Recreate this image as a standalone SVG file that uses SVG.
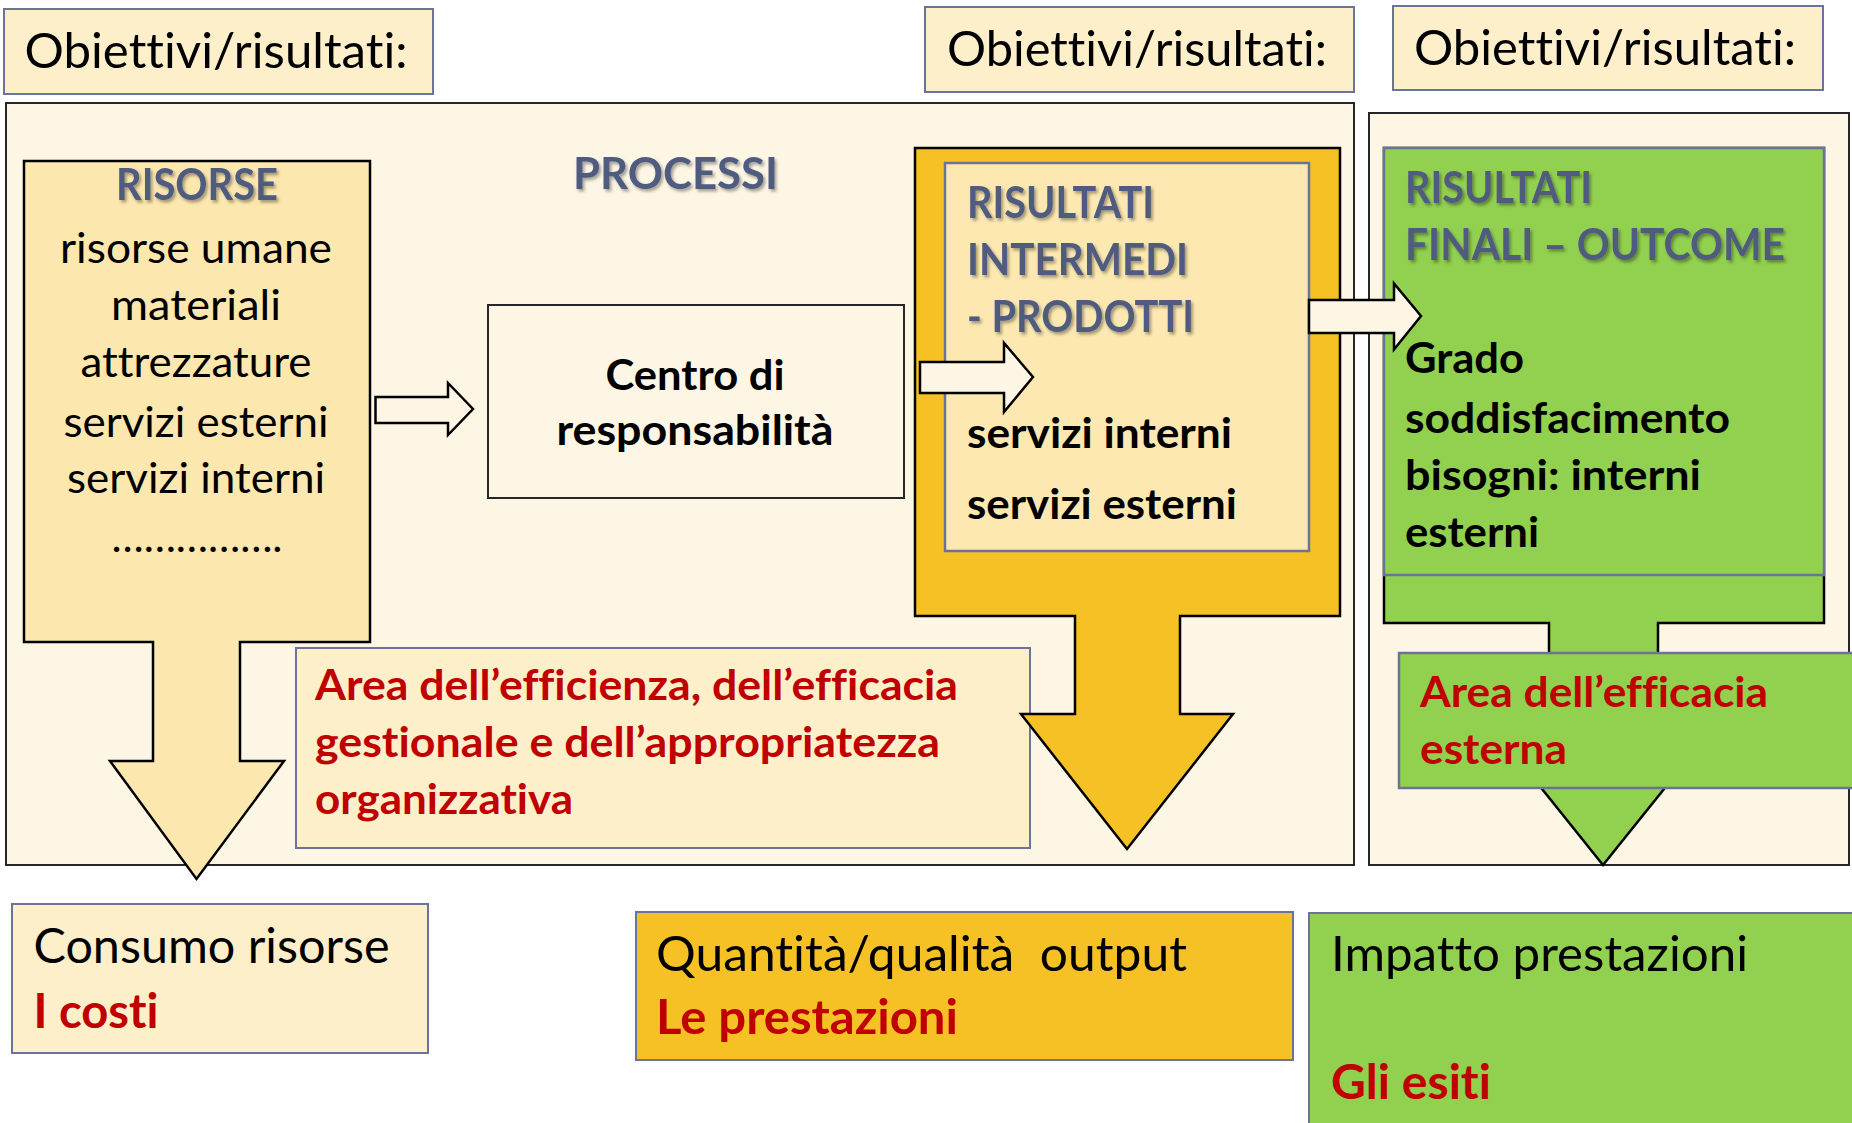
<svg xmlns="http://www.w3.org/2000/svg" width="1852" height="1123" viewBox="0 0 1852 1123">
<defs>
<style>
text{font-family:Lato,"Open Sans","Liberation Sans",sans-serif;font-variant-ligatures:none;font-feature-settings:"liga" 0,"clig" 0;}
.r{font-size:47.5px;fill:#000;}
.rs{font-size:42.5px;fill:#000;}
.b{font-size:42.5px;font-weight:700;fill:#000;}
.bb{font-size:47.5px;font-weight:700;fill:#C00000;}
.red{font-size:42.5px;font-weight:700;fill:#C00000;}
.t{font-size:43px;font-weight:700;fill:#505B80;filter:url(#sh);}
.lab{fill:#FEEFCB;stroke:#6B7398;stroke-width:2;}
.outer{fill:#FEF6E4;stroke:#262626;stroke-width:2;}
.arr{stroke:#000;stroke-width:2.5;stroke-linejoin:miter;}
.inner{stroke:#6B7398;stroke-width:2.5;}
.conn{fill:#FEF6E4;stroke:#000;stroke-width:2.5;}
</style>
<filter id="sh" x="-5%" y="-20%" width="115%" height="150%">
<feDropShadow dx="2" dy="2.5" stdDeviation="1.5" flood-color="#000" flood-opacity="0.35"/>
</filter>
</defs>
<rect width="1852" height="1123" fill="#fff"/>

<g id="obiettivi1">
<rect class="lab" x="4" y="9" width="429" height="85"/>
<text class="r" x="24.5" y="68" textLength="383" lengthAdjust="spacingAndGlyphs">Obiettivi/risultati:</text>
</g>
<g id="obiettivi2">
<rect class="lab" x="925" y="7" width="429" height="85"/>
<text class="r" x="947" y="66" textLength="380" lengthAdjust="spacingAndGlyphs">Obiettivi/risultati:</text>
</g>
<g id="obiettivi3">
<rect class="lab" x="1393" y="6" width="430" height="84"/>
<text class="r" x="1414" y="65" textLength="382" lengthAdjust="spacingAndGlyphs">Obiettivi/risultati:</text>
</g>

<g id="processi">
<rect class="outer" x="6" y="103" width="1348" height="762"/>
<text class="t" x="573" y="189" textLength="205" lengthAdjust="spacingAndGlyphs">PROCESSI</text>
</g>
<g id="esterno">
<rect class="outer" x="1369" y="113" width="480" height="752"/>
</g>

<g id="risorse">
<polygon class="arr" fill="#FCE7AE" points="24,161 370,161 370,642 240,642 240,761 284,761 196.5,879 110,761 153,761 153,642 24,642"/>
<g text-anchor="middle">
<text class="t" x="197" y="200" textLength="162" lengthAdjust="spacingAndGlyphs">RISORSE</text>
<text class="rs" x="196" y="263" textLength="272" lengthAdjust="spacingAndGlyphs">risorse umane</text>
<text class="rs" x="196" y="320" textLength="170" lengthAdjust="spacingAndGlyphs">materiali</text>
<text class="rs" x="196" y="377" textLength="231" lengthAdjust="spacingAndGlyphs">attrezzature</text>
<text class="rs" x="196" y="437" textLength="265" lengthAdjust="spacingAndGlyphs">servizi esterni</text>
<text class="rs" x="196" y="493" textLength="258" lengthAdjust="spacingAndGlyphs">servizi interni</text>
<text class="rs" x="197" y="552" textLength="171" lengthAdjust="spacingAndGlyphs">…………….</text>
</g>
</g>

<g id="centro">
<rect class="outer" x="488" y="305" width="416" height="193"/>
<g text-anchor="middle">
<text class="b" x="695" y="390" textLength="179" lengthAdjust="spacingAndGlyphs">Centro di</text>
<text class="b" x="695" y="445" textLength="277" lengthAdjust="spacingAndGlyphs">responsabilità</text>
</g>
</g>

<g id="area-efficienza">
<rect class="lab" x="296" y="648" width="734" height="200"/>
<text class="red" x="315" y="700" textLength="643" lengthAdjust="spacingAndGlyphs">Area dell’efficienza, dell’efficacia</text>
<text class="red" x="315" y="757" textLength="625" lengthAdjust="spacingAndGlyphs">gestionale e dell’appropriatezza</text>
<text class="red" x="315" y="814" textLength="258" lengthAdjust="spacingAndGlyphs">organizzativa</text>
</g>

<g id="risultati-intermedi">
<polygon class="arr" fill="#F6C125" points="915,148 1340,148 1340,616 1180,616 1180,714 1233,714 1127,849 1021,714 1075,714 1075,616 915,616"/>
<rect class="inner" fill="#FCE8B0" x="945" y="163" width="364" height="388"/>
<text class="t" x="967" y="218" textLength="187" lengthAdjust="spacingAndGlyphs">RISULTATI</text>
<text class="t" x="967" y="275" textLength="221" lengthAdjust="spacingAndGlyphs">INTERMEDI</text>
<text class="t" x="967" y="332" textLength="227" lengthAdjust="spacingAndGlyphs">- PRODOTTI</text>
<text class="b" x="967" y="448" textLength="265" lengthAdjust="spacingAndGlyphs">servizi interni</text>
<text class="b" x="967" y="519" textLength="270" lengthAdjust="spacingAndGlyphs">servizi esterni</text>
</g>

<g id="risultati-finali">
<polygon class="arr" fill="#92D050" points="1384,148 1824,148 1824,623 1658,623 1658,728 1713,728 1603,865 1493,728 1549,728 1549,623 1384,623"/>
<rect class="inner" fill="#92D050" x="1384" y="148" width="440" height="427"/>
<text class="t" x="1405" y="203" textLength="187" lengthAdjust="spacingAndGlyphs">RISULTATI</text>
<text class="t" x="1405" y="260" textLength="380" lengthAdjust="spacingAndGlyphs">FINALI – OUTCOME</text>
<text class="b" x="1405" y="373" textLength="119" lengthAdjust="spacingAndGlyphs">Grado</text>
<text class="b" x="1405" y="433" textLength="325" lengthAdjust="spacingAndGlyphs">soddisfacimento</text>
<text class="b" x="1405" y="490" textLength="296" lengthAdjust="spacingAndGlyphs">bisogni: interni</text>
<text class="b" x="1405" y="547" textLength="134" lengthAdjust="spacingAndGlyphs">esterni</text>
</g>

<g id="area-efficacia-esterna">
<rect class="inner" fill="#92D050" x="1399" y="653" width="460" height="135"/>
<text class="red" x="1420" y="707" textLength="348" lengthAdjust="spacingAndGlyphs">Area dell’efficacia</text>
<text class="red" x="1420" y="764" textLength="147" lengthAdjust="spacingAndGlyphs">esterna</text>
</g>

<g id="connectors">
<polygon class="conn" points="375.5,397 448,397 448,383 473,409 448,435 448,423 375.5,423"/>
<polygon class="conn" points="920,362 1004,362 1004,343 1033,377 1004,412 1004,393 920,393"/>
<polygon class="conn" points="1309,300 1394,300 1394,283.5 1421,316 1394,349.5 1394,333 1309,333"/>
</g>

<g id="consumo">
<rect class="lab" x="12" y="904" width="416" height="149"/>
<text class="r" x="33.5" y="963" textLength="356" lengthAdjust="spacingAndGlyphs">Consumo risorse</text>
<text class="bb" x="33.5" y="1028" textLength="125" lengthAdjust="spacingAndGlyphs">I costi</text>
</g>
<g id="quantita">
<rect class="lab" style="fill:#F6C125" x="636" y="912" width="657" height="148"/>
<text class="r" x="656" y="971" xml:space="preserve" textLength="531" lengthAdjust="spacingAndGlyphs">Quantità/qualità  output</text>
<text class="bb" x="656" y="1034" textLength="302" lengthAdjust="spacingAndGlyphs">Le prestazioni</text>
</g>
<g id="impatto">
<rect class="lab" style="fill:#92D050" x="1309" y="913" width="560" height="230"/>
<text class="r" x="1331" y="971" textLength="417" lengthAdjust="spacingAndGlyphs">Impatto prestazioni</text>
<text class="bb" x="1331" y="1099" textLength="160" lengthAdjust="spacingAndGlyphs">Gli esiti</text>
</g>
</svg>
